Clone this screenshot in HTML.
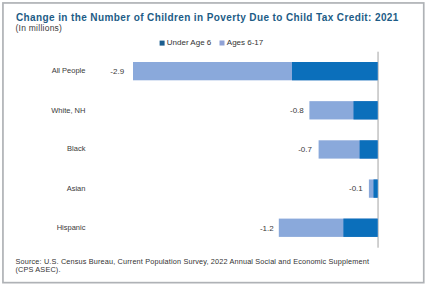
<!DOCTYPE html>
<html><head><meta charset="utf-8">
<style>
html,body{margin:0;padding:0;background:#fff;}
body{width:427px;height:286px;position:relative;overflow:hidden;font-family:"Liberation Sans",sans-serif;}
svg{position:absolute;left:0;top:0;}
.t{position:absolute;white-space:nowrap;line-height:1;}
#title{left:16px;top:12.5px;font-size:10px;letter-spacing:0.39px;font-weight:bold;color:#1d5c86;}
#sub{left:15.5px;top:23.7px;font-size:8.5px;letter-spacing:0.25px;color:#3a3a3a;}
.leg{font-size:8px;color:#333;}
.lab{font-size:7.5px;color:#3a3a3a;text-align:right;}
.val{font-size:8px;color:#3a3a3a;}
#src{left:15.5px;top:257.5px;font-size:7.3px;letter-spacing:0.155px;color:#333;line-height:8.2px;}
</style></head>
<body>
<svg width="427" height="286" viewBox="0 0 427 286">
<rect x="2.95" y="2.95" width="420.8" height="279.7" fill="none" stroke="#afb2b6" stroke-width="1.7"/>
<rect x="377.3" y="51.7" width="1.5" height="196" fill="#c2c2c2"/>
<rect x="159.6" y="40.6" width="5" height="5" fill="#1b5d8f"/>
<rect x="219.5" y="40.5" width="5" height="5" fill="#90a2d6"/>
<rect x="133.0" y="62.0" width="244.70" height="18.3" fill="#8aa9db"/>
<rect x="292.0" y="62.0" width="85.70" height="18.3" fill="#0b6fbb"/>
<rect x="309.4" y="101.15" width="68.30" height="18.3" fill="#8aa9db"/>
<rect x="353.5" y="101.15" width="24.20" height="18.3" fill="#0b6fbb"/>
<rect x="318.6" y="140.3" width="59.10" height="18.3" fill="#8aa9db"/>
<rect x="359.6" y="140.3" width="18.10" height="18.3" fill="#0b6fbb"/>
<rect x="368.9" y="179.45" width="8.80" height="18.3" fill="#8aa9db"/>
<rect x="373.5" y="179.45" width="4.20" height="18.3" fill="#0b6fbb"/>
<rect x="278.8" y="218.6" width="98.90" height="18.3" fill="#8aa9db"/>
<rect x="343.4" y="218.6" width="34.30" height="18.3" fill="#0b6fbb"/>
</svg>
<div class="t" id="title">Change in the Number of Children in Poverty Due to Child Tax Credit: 2021</div>
<div class="t" id="sub">(In millions)</div>
<div class="t leg" style="left:166.8px;top:39.4px;">Under Age 6</div>
<div class="t leg" style="left:226.8px;top:39.4px;">Ages 6-17</div>
<div class="t lab" style="right:341.6px;top:66.70px;">All People</div>
<div class="t val" style="left:110.3px;top:67.50px;">-2.9</div>
<div class="t lab" style="right:341.6px;top:106.50px;">White, NH</div>
<div class="t val" style="left:290.0px;top:106.80px;">-0.8</div>
<div class="t lab" style="right:341.6px;top:145.40px;">Black</div>
<div class="t val" style="left:298.2px;top:146.00px;">-0.7</div>
<div class="t lab" style="right:341.6px;top:184.50px;">Asian</div>
<div class="t val" style="left:349.0px;top:185.30px;">-0.1</div>
<div class="t lab" style="right:341.6px;top:224.10px;">Hispanic</div>
<div class="t val" style="left:259.9px;top:224.50px;">-1.2</div>
<div class="t" id="src">Source: U.S. Census Bureau, Current Population Survey, 2022 Annual Social and Economic Supplement<br>(CPS ASEC).</div>
</body></html>
